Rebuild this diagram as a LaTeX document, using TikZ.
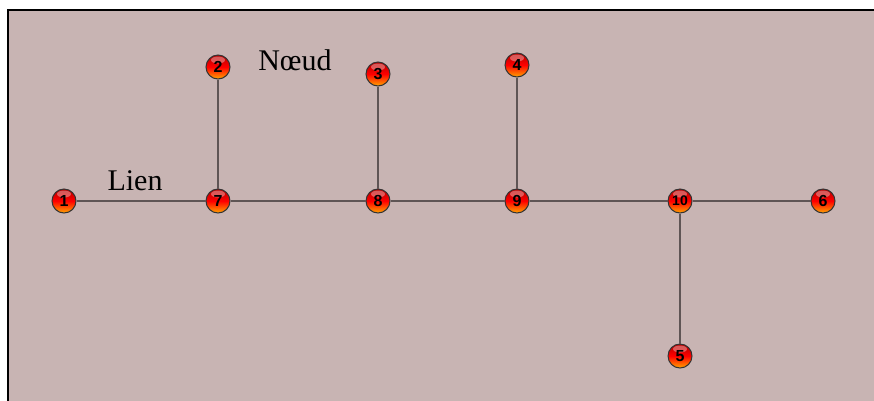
\documentclass[tikz,border=0pt]{standalone}
\usepackage{fontspec}
\setmainfont{Liberation Serif}
\newfontfamily\numfont{Liberation Sans}
\usepackage{xcolor}
\usetikzlibrary{positioning}

\definecolor{bgrose}{RGB}{200,180,179}
\definecolor{linkgray}{RGB}{95,85,85}

\begin{document}
\begin{tikzpicture}[
    x=1pt, y=-1pt,
    ball/.style={circle, draw=black!80, line width=1pt, minimum size=24pt, inner sep=0pt,
                 top color=red!70!black, bottom color=orange!70!yellow, middle color=red,
                 path picture={\fill[white, opacity=0.35] ([yshift=-5pt]path picture bounding box.north)
                     ellipse [x radius=7pt, y radius=3.5pt];},
                 font=\numfont\bfseries\fontsize{16}{16}\selectfont},
    link/.style={draw=linkgray, line width=2.4pt},
    tag/.style={anchor=base, inner sep=0pt, font=\fontsize{30}{32}\selectfont}
]
    % Frame
    \useasboundingbox (0,0) rectangle (874,400);
    \fill[white] (0,0) rectangle (874,400);
    \filldraw[fill=bgrose, draw=black, line width=2pt] (8,9.5) rectangle (890,420);

    % Nodes
    \node[ball] (n1) at (64,201) {1};
    \node[ball] (n7) at (218,201) {7};
    \node[ball] (n2) at (218,67) {2};
    \node[ball] (n8) at (378,201) {8};
    \node[ball] (n3) at (378,74) {3};
    \node[ball] (n9) at (517,201) {9};
    \node[ball] (n4) at (517,65) {4};
    \node[ball, font=\numfont\bfseries\fontsize{14}{14}\selectfont] (n10) at (680,201) {10};
    \node[ball] (n6) at (823,201) {6};
    \node[ball] (n5) at (680,356) {5};

    % Links
    \path[link] (n1) -- (n7) -- (n8) -- (n9) -- (n10) -- (n6);
    \path[link] (n2) -- (n7);
    \path[link] (n3) -- (n8);
    \path[link] (n4) -- (n9);
    \path[link] (n10) -- (n5);

    % Labels
    \node[tag] (lien) at (135,190) {Lien};
    \node[tag] (noeud) at (295,70) {Nœud};
\end{tikzpicture}
\end{document}
